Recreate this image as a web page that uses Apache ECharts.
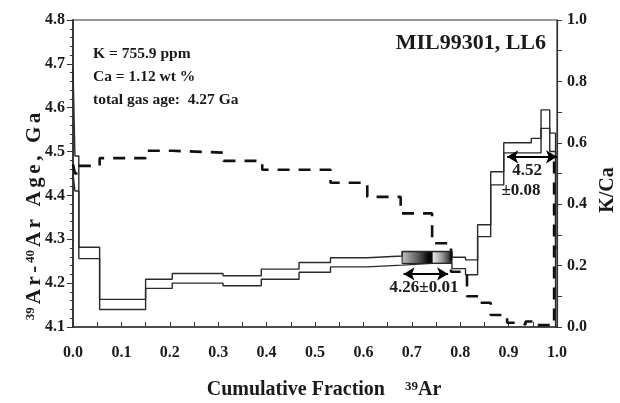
<!DOCTYPE html>
<html>
<head>
<meta charset="utf-8">
<script src="https://cdn.jsdelivr.net/npm/echarts@6/dist/echarts.min.js"></script>
<style>
html,body{margin:0;padding:0;background:#fff;}
#c{width:620px;height:403px;}
</style>
</head>
<body>
<div id="c"></div>
<script>
// ---- Data ----
// Age spectrum (error envelope): step starts on cumulative 39Ar fraction
const ageStepX  = [0, 0.004, 0.012, 0.055, 0.150, 0.205, 0.310, 0.389, 0.467, 0.532, 0.608, 0.680, 0.742, 0.783, 0.811, 0.836, 0.863, 0.890, 0.947, 0.967, 0.985, 0.997, 1.0];
const ageUpper  = [4.69, 4.49, 4.282, 4.163, 4.209, 4.222, 4.217, 4.232, 4.247, 4.258, 4.262, 4.272, 4.272, 4.259, 4.253, 4.333, 4.454, 4.520, 4.530, 4.595, 4.542, 4.28];
const ageLower  = [4.45, 4.41, 4.256, 4.140, 4.188, 4.200, 4.194, 4.209, 4.225, 4.237, 4.241, 4.245, 4.245, 4.233, 4.219, 4.306, 4.424, 4.497, 4.497, 4.553, 4.500, 4.10];
// K/Ca spectrum (right axis)
const kcaStepX  = [0, 0.004, 0.012, 0.055, 0.150, 0.205, 0.311, 0.391, 0.532, 0.608, 0.677, 0.742, 0.781, 0.814, 0.838, 0.863, 0.897, 0.918, 0.935, 0.950, 0.994, 1.0];
const kcaValues = [0.53, 0.50, 0.525, 0.55, 0.574, 0.568, 0.541, 0.512, 0.47, 0.424, 0.37, 0.273, 0.18, 0.10, 0.079, 0.039, 0.014, 0.008, 0.018, 0.006, 0.55];
// Plateau boxes (gradient) : [xStart, xEnd, ageLow, ageHigh]
const plateauBoxes = [[0.680, 0.742, 4.245, 4.272], [0.742, 0.783, 4.245, 4.272]];
// Plateau arrows: [xStart, xEnd, age level]
const plateauArrows = [[0.683, 0.775, 4.221], [0.897, 1.0, 4.488]];
// Tick labels
const xTicks = [0, 0.1, 0.2, 0.3, 0.4, 0.5, 0.6, 0.7, 0.8, 0.9, 1.0];
const ageTicks = [4.1, 4.2, 4.3, 4.4, 4.5, 4.6, 4.7, 4.8];
const kcaTicks = [0.0, 0.2, 0.4, 0.6, 0.8, 1.0];

function stepData(xs, ys) {
  return xs.map((x, i) => [x, i < ys.length ? ys[i] : ys[ys.length - 1]]);
}

const FONT = '"Liberation Serif", "Times New Roman", serif';
const INK = '#1a1a1a';

const chart = echarts.init(document.getElementById('c'), null, {renderer: 'canvas'});

function spacedRich(str, style) {
  return str.split('').map(c => '{' + style + '|' + c + '}').join('');
}

const yTitle = '{s|39}' + spacedRich('Ar-', 'b') + '{s|40}' + spacedRich('Ar Age, Ga', 'b');

const option = {
  animation: false,
  backgroundColor: '#fff',
  grid: {left: 73, right: 63, top: 20, bottom: 76, show: true, borderColor: '#333', borderWidth: 1.2, backgroundColor: 'transparent'},
  xAxis: {
    type: 'value', min: xTicks[0], max: xTicks[xTicks.length - 1], interval: 0.1,
    axisLine: {show: true, lineStyle: {color: '#333', width: 1.5}},
    axisTick: {show: true, inside: true, length: 5, lineStyle: {color: '#333', width: 1}},
    minorTick: {show: true, splitNumber: 2, length: 5, lineStyle: {color: '#333', width: 1}},
    splitLine: {show: false},
    axisLabel: {margin: 18, color: INK, fontFamily: FONT, fontWeight: 'bold', fontSize: 16, formatter: v => v.toFixed(1)}
  },
  yAxis: [{
    type: 'value', min: ageTicks[0], max: ageTicks[ageTicks.length - 1], interval: 0.1,
    axisLine: {show: true, lineStyle: {color: '#333', width: 1.8}},
    axisTick: {show: true, length: 6, lineStyle: {color: '#333', width: 1}},
    minorTick: {show: true, splitNumber: 5, length: 3, lineStyle: {color: '#333', width: 1}},
    splitLine: {show: false},
    axisLabel: {margin: 8, color: INK, fontFamily: FONT, fontWeight: 'bold', fontSize: 16, formatter: v => v.toFixed(1)}
  }, {
    type: 'value', position: 'right', min: kcaTicks[0], max: kcaTicks[kcaTicks.length - 1], interval: 0.2,
    axisLine: {show: true, lineStyle: {color: '#333', width: 1.2}},
    axisTick: {show: true, length: 5, lineStyle: {color: '#333', width: 1}},
    minorTick: {show: true, splitNumber: 2, length: 5, lineStyle: {color: '#333', width: 1}},
    splitLine: {show: false},
    axisLabel: {margin: 10, color: INK, fontFamily: FONT, fontWeight: 'bold', fontSize: 16, formatter: v => v.toFixed(1)}
  }],
  series: [
    {type: 'line', name: 'age upper', step: 'end', showSymbol: false, symbol: 'none', z: 3,
     data: stepData(ageStepX, ageUpper), lineStyle: {color: '#2a2a2a', width: 1.4}},
    {type: 'line', name: 'age lower', step: 'end', showSymbol: false, symbol: 'none', z: 3,
     data: stepData(ageStepX, ageLower), lineStyle: {color: '#2a2a2a', width: 1.4}},
    {type: 'line', name: 'K/Ca', yAxisIndex: 1, step: 'end', showSymbol: false, symbol: 'none', z: 4,
     data: stepData(kcaStepX, kcaValues), lineStyle: {color: '#111', width: 2.6, type: [12, 9]}},
    {type: 'line', name: 'plateaus', data: [], z: 6,
     markArea: {
       silent: true,
       data: plateauBoxes.map((b, i) => [
         {coord: [b[0], b[2]], itemStyle: {
            borderColor: '#111', borderWidth: 1,
            color: {type: 'linear', x: 0, y: 0, x2: 1, y2: 0,
              colorStops: i === 0
                ? [{offset: 0, color: '#c4c4c4'}, {offset: 0.55, color: '#555'}, {offset: 0.85, color: '#0a0a0a'}, {offset: 1, color: '#000'}]
                : [{offset: 0, color: '#f4f4f4'}, {offset: 0.5, color: '#999'}, {offset: 1, color: '#111'}]}
          }},
         {coord: [b[1], b[3]]}
       ])
     },
     markLine: {
       silent: true, symbol: ['arrow', 'arrow'], symbolSize: [10, 11],
       label: {show: false},
       lineStyle: {color: '#000', width: 2, type: 'solid'},
       data: plateauArrows.map(a => [{coord: [a[0], a[2]]}, {coord: [a[1], a[2]]}])
     }}
  ],
  graphic: [
    {type: 'text', left: 93, top: 46, style: {text: 'K = 755.9 ppm', font: 'bold 15.5px ' + FONT, fill: INK}},
    {type: 'text', left: 93, top: 69, style: {text: 'Ca = 1.12 wt %', font: 'bold 15.5px ' + FONT, fill: INK}},
    {type: 'text', left: 93, top: 92, style: {text: 'total gas age:  4.27 Ga', font: 'bold 15.5px ' + FONT, fill: INK}},
    {type: 'text', right: 74, top: 32, style: {text: 'MIL99301, LL6', font: 'bold 22px ' + FONT, fill: INK}},
    {type: 'text', x: 424, y: 288, style: {text: '4.26±0.01', font: 'bold 17px ' + FONT, fill: INK, align: 'center', verticalAlign: 'middle'}},
    {type: 'text', x: 527, y: 171, style: {text: '4.52', font: 'bold 17px ' + FONT, fill: INK, align: 'center', verticalAlign: 'middle'}},
    {type: 'text', x: 521, y: 191, style: {text: '±0.08', font: 'bold 17px ' + FONT, fill: INK, align: 'center', verticalAlign: 'middle'}},
    {type: 'text', x: 35, y: 216, rotation: Math.PI / 2,
     style: {text: yTitle, align: 'center', verticalAlign: 'middle', fill: INK,
       rich: {
         b: {fontFamily: FONT, fontWeight: 'bold', fontSize: 21, color: INK, padding: [0, 1.8, 0, 1.8]},
         s: {fontFamily: FONT, fontWeight: 'bold', fontSize: 13, color: INK, verticalAlign: 'top', padding: [0, 1, 0, 1]}
       }}},
    {type: 'text', x: 324, y: 390,
     style: {text: '{b|Cumulative Fraction    }{s|39}{b|Ar}', align: 'center', verticalAlign: 'middle', fill: INK,
       rich: {
         b: {fontFamily: FONT, fontWeight: 'bold', fontSize: 20, color: INK},
         s: {fontFamily: FONT, fontWeight: 'bold', fontSize: 13, color: INK, verticalAlign: 'top'}
       }}},
    {type: 'text', x: 608, y: 190, rotation: Math.PI / 2,
     style: {text: 'K/Ca', font: 'bold 20px ' + FONT, fill: INK, align: 'center', verticalAlign: 'middle'}}
  ]
};
chart.setOption(option);
</script>
</body>
</html>
